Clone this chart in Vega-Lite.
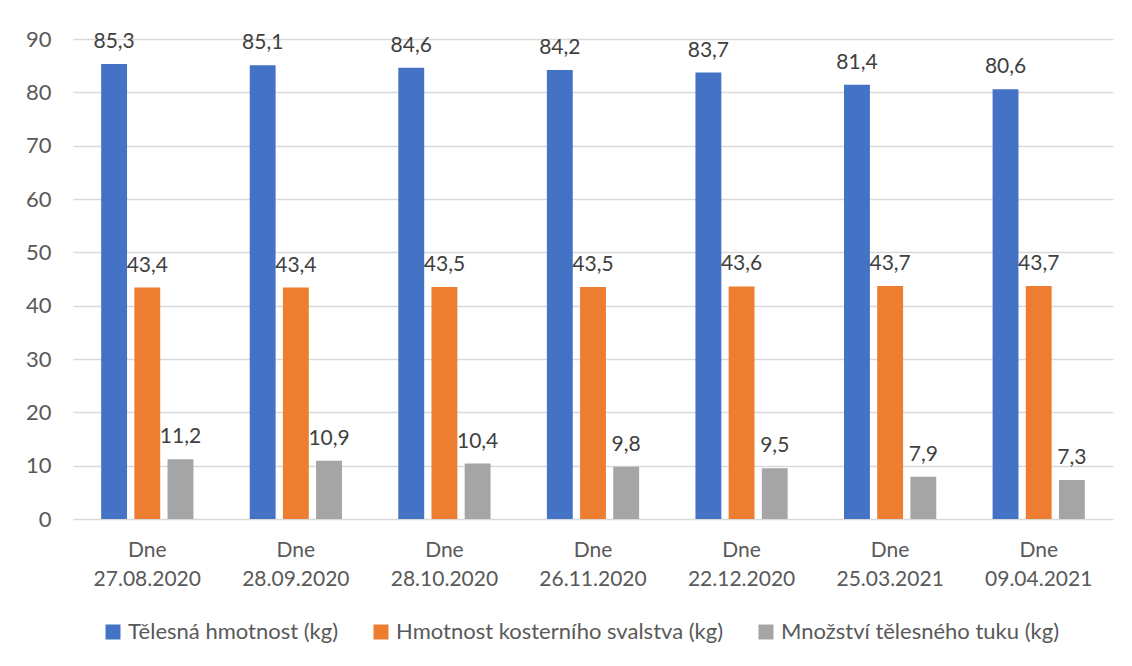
{
  "$schema": "https://vega.github.io/schema/vega-lite/v6.json",
  "autosize": {"type": "none"},
  "width": 1040,
  "height": 480,
  "padding": {"left": 73, "top": 39, "right": 19, "bottom": 147},
  "background": "white",
  "config": {
    "font": "Lato",
    "view": {"stroke": null},
    "locale": {"number": {"decimal": ",", "thousands": " ", "grouping": [3], "currency": ["", " Kč"]}}
  },
  "data": {
    "values": [
      {"date": "27.08.2020", "series": "Tělesná hmotnost (kg)", "value": 85.3},
      {"date": "27.08.2020", "series": "Hmotnost kosterního svalstva (kg)", "value": 43.4},
      {"date": "27.08.2020", "series": "Množství tělesného tuku (kg)", "value": 11.2},
      {"date": "28.09.2020", "series": "Tělesná hmotnost (kg)", "value": 85.1},
      {"date": "28.09.2020", "series": "Hmotnost kosterního svalstva (kg)", "value": 43.4},
      {"date": "28.09.2020", "series": "Množství tělesného tuku (kg)", "value": 10.9},
      {"date": "28.10.2020", "series": "Tělesná hmotnost (kg)", "value": 84.6},
      {"date": "28.10.2020", "series": "Hmotnost kosterního svalstva (kg)", "value": 43.5},
      {"date": "28.10.2020", "series": "Množství tělesného tuku (kg)", "value": 10.4},
      {"date": "26.11.2020", "series": "Tělesná hmotnost (kg)", "value": 84.2},
      {"date": "26.11.2020", "series": "Hmotnost kosterního svalstva (kg)", "value": 43.5},
      {"date": "26.11.2020", "series": "Množství tělesného tuku (kg)", "value": 9.8},
      {"date": "22.12.2020", "series": "Tělesná hmotnost (kg)", "value": 83.7},
      {"date": "22.12.2020", "series": "Hmotnost kosterního svalstva (kg)", "value": 43.6},
      {"date": "22.12.2020", "series": "Množství tělesného tuku (kg)", "value": 9.5},
      {"date": "25.03.2021", "series": "Tělesná hmotnost (kg)", "value": 81.4},
      {"date": "25.03.2021", "series": "Hmotnost kosterního svalstva (kg)", "value": 43.7},
      {"date": "25.03.2021", "series": "Množství tělesného tuku (kg)", "value": 7.9},
      {"date": "09.04.2021", "series": "Tělesná hmotnost (kg)", "value": 80.6},
      {"date": "09.04.2021", "series": "Hmotnost kosterního svalstva (kg)", "value": 43.7},
      {"date": "09.04.2021", "series": "Množství tělesného tuku (kg)", "value": 7.3}
    ]
  },
  "encoding": {
    "x": {
      "field": "date",
      "type": "nominal",
      "sort": null,
      "scale": {"paddingInner": 0.33, "paddingOuter": 0.165},
      "axis": {
        "title": null,
        "domain": false,
        "ticks": false,
        "labelAngle": 0,
        "labelFontSize": 21,
        "labelColor": "#595959",
        "labelPadding": 20,
        "labelLineHeight": 29,
        "labelBaseline": "top",
        "labelExpr": "['Dne', datum.label]"
      }
    },
    "xOffset": {
      "field": "series",
      "type": "nominal",
      "scale": {
        "domain": ["Tělesná hmotnost (kg)", "Hmotnost kosterního svalstva (kg)", "Množství tělesného tuku (kg)"],
        "paddingInner": 0.22,
        "paddingOuter": 0.11
      }
    },
    "y": {
      "field": "value",
      "type": "quantitative",
      "scale": {"domain": [0, 90], "nice": false},
      "axis": {
        "title": null,
        "values": [0, 10, 20, 30, 40, 50, 60, 70, 80, 90],
        "domain": false,
        "ticks": false,
        "labelFontSize": 22,
        "labelColor": "#595959",
        "labelPadding": 22,
        "gridColor": "#d9d9d9",
        "gridWidth": 1.3
      }
    }
  },
  "layer": [
    {
      "mark": {"type": "bar"},
      "encoding": {
        "color": {
          "field": "series",
          "type": "nominal",
          "scale": {
            "domain": ["Tělesná hmotnost (kg)", "Hmotnost kosterního svalstva (kg)", "Množství tělesného tuku (kg)"],
            "range": ["#4472C4", "#ED7D31", "#A5A5A5"]
          },
          "legend": {
            "title": null,
            "orient": "none",
            "direction": "horizontal",
            "legendX": 29,
            "legendY": 582,
            "symbolType": "square",
            "symbolSize": 225,
            "symbolStrokeWidth": 0,
            "labelFontSize": 22,
            "labelColor": "#595959",
            "labelOffset": 4,
            "columnPadding": 31,
            "labelLimit": 500
          }
        }
      }
    },
    {
      "mark": {"type": "text", "baseline": "alphabetic", "dy": -16, "fontSize": 21, "color": "#404040"},
      "encoding": {
        "text": {"field": "value", "type": "quantitative", "format": ".1f"}
      }
    }
  ]
}
